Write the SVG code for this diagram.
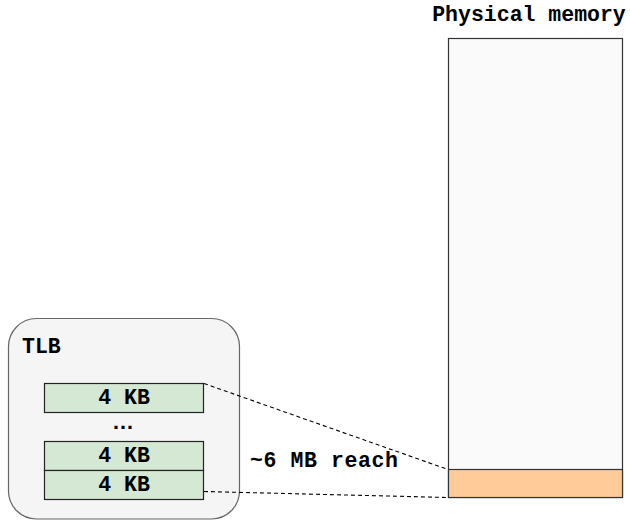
<svg xmlns="http://www.w3.org/2000/svg" width="630" height="520" viewBox="0 0 630 520">
  <style>
    .lbl { font-family: "Liberation Mono", "Courier New", monospace; font-weight: bold; font-size: 21.5px; fill: #000; }
    .mid { text-anchor: middle; }
    .dots { font-family: "Liberation Sans", Arial, sans-serif; font-weight: bold; font-size: 22px; fill: #000; text-anchor: middle; }
    .entry { fill: #d5e8d4; stroke: #222; stroke-width: 1.2; }
    .link { fill: none; stroke: #000; stroke-width: 1.1; stroke-dasharray: 4 3; }
  </style>
  <rect width="630" height="520" fill="#ffffff"/>

  <!-- TLB container with its entries -->
  <g id="tlb">
    <rect x="8.5" y="318.5" width="231" height="200.5" rx="28" ry="28" fill="#f5f5f5" stroke="#666" stroke-width="1.2"/>
    <text class="lbl" x="22" y="353">TLB</text>
  </g>
  <g id="entry-1">
    <rect class="entry" x="44.5" y="383.5" width="159" height="29"/>
    <text class="lbl mid" x="124" y="404">4 KB</text>
  </g>
  <g id="ellipsis">
    <text class="dots" x="123" y="428.5">…</text>
  </g>
  <g id="entry-2">
    <rect class="entry" x="44.5" y="441.5" width="159" height="29"/>
    <text class="lbl mid" x="124" y="462">4 KB</text>
  </g>
  <g id="entry-3">
    <rect class="entry" x="44.5" y="470.5" width="159" height="29"/>
    <text class="lbl mid" x="124" y="491">4 KB</text>
  </g>

  <!-- Physical memory column with the covered region -->
  <g id="physical-memory">
    <text class="lbl mid" x="529" y="21">Physical memory</text>
    <rect x="448.5" y="38.5" width="174" height="459" fill="#fafafa" stroke="#333" stroke-width="1.2"/>
  </g>
  <g id="covered-region">
    <rect x="448.5" y="469.5" width="174" height="28" fill="#ffcc99" stroke="#333" stroke-width="1.2"/>
  </g>

  <!-- reach projection lines -->
  <g id="connectors">
    <line class="link" x1="204" y1="383.5" x2="448" y2="469.5"/>
    <line class="link" x1="204" y1="491.5" x2="448" y2="497.5"/>
  </g>

  <g id="reach-label">
    <text class="lbl" x="250" y="467" letter-spacing="0.6">~6 MB reach</text>
  </g>
</svg>
